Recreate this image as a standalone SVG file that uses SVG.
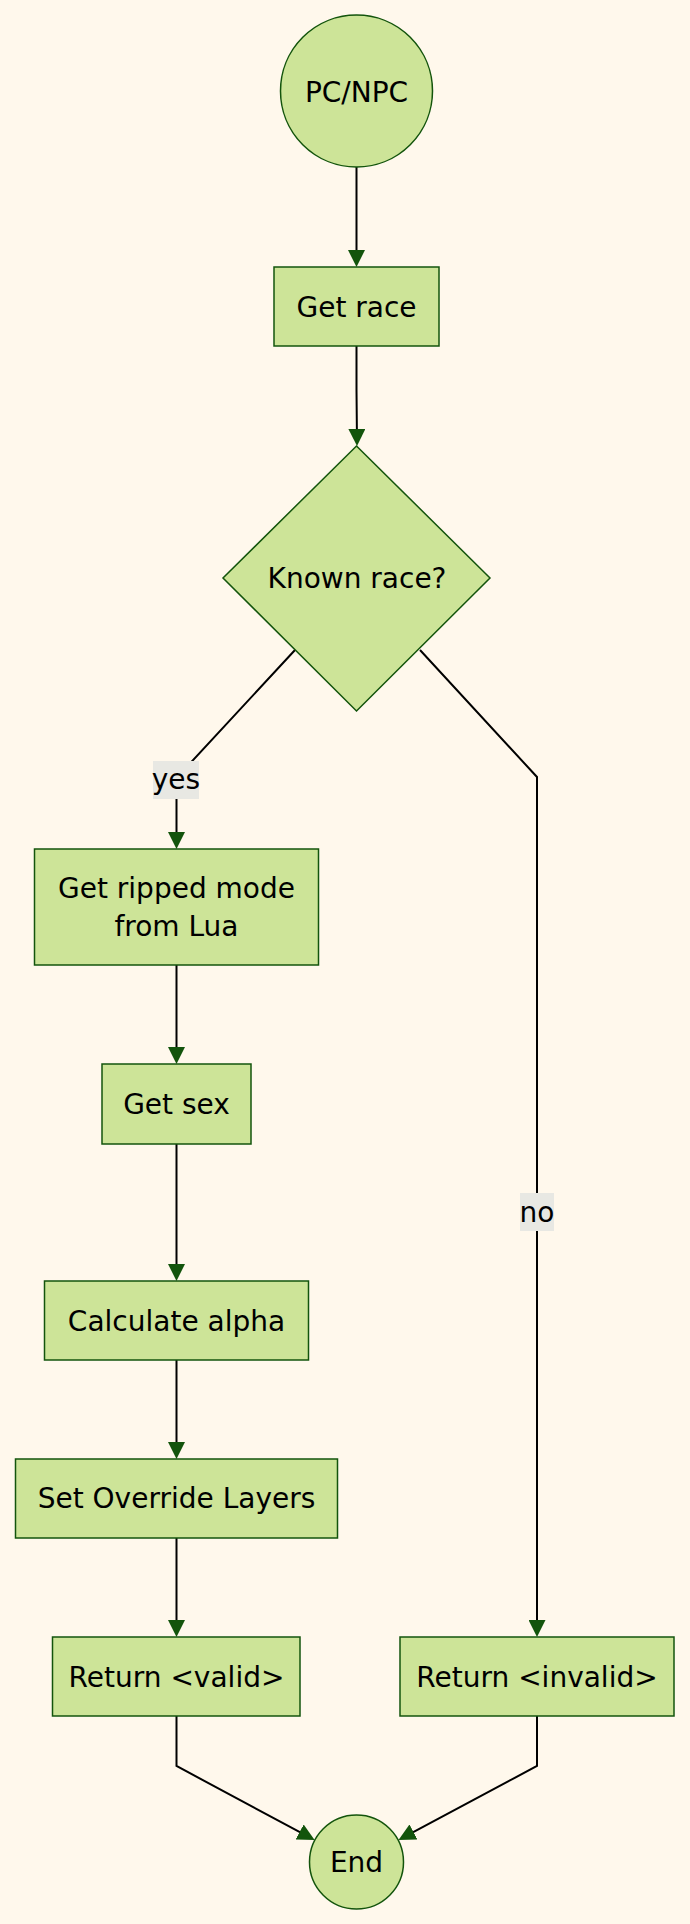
<svg xmlns="http://www.w3.org/2000/svg" width="690" height="1924" viewBox="0 0 690 1924">
<style>
.node{fill:#cde498;stroke:#13540c;stroke-width:1.5}
.t{font-family:"DejaVu Sans",sans-serif;font-size:28px;fill:#000;text-anchor:middle}
.edge{fill:none;stroke:#000;stroke-width:2}
.lbl{fill:#e8e8e3}
</style>
<defs>
<marker id="arr" viewBox="0 0 10 10" refX="7.65" refY="5" markerWidth="17" markerHeight="17" markerUnits="userSpaceOnUse" orient="auto">
<path d="M0,0 L10,5 L0,10 z" fill="#13540c"/>
</marker>
</defs>
<rect width="690" height="1924" fill="#fff8ec"/>
<g id="connectors">
<path class="edge" d="M356.5,167 L356.5,263" marker-end="url(#arr)"/>
<path class="edge" d="M356.5,346 L356.5,390 L357,442" marker-end="url(#arr)"/>
<path class="edge" d="M295,650 L176.5,778 L176.5,845" marker-end="url(#arr)"/>
<path class="edge" d="M420,650 L537,777 L537,1633" marker-end="url(#arr)"/>
<path class="edge" d="M176.5,965 L176.5,1060" marker-end="url(#arr)"/>
<path class="edge" d="M176.5,1144 L176.5,1277" marker-end="url(#arr)"/>
<path class="edge" d="M176.5,1360 L176.5,1455" marker-end="url(#arr)"/>
<path class="edge" d="M176.5,1538 L176.5,1633" marker-end="url(#arr)"/>
<path class="edge" d="M176.5,1716 L176.5,1766 L311.1,1838.1" marker-end="url(#arr)"/>
<path class="edge" d="M537,1716 L537,1766 L402,1838.1" marker-end="url(#arr)"/>
<g id="label-yes">
<rect class="lbl" x="153" y="761" width="46" height="38"/>
<text class="t" x="176" y="789">yes</text>
</g>
<g id="label-no">
<rect class="lbl" x="520" y="1193" width="34" height="38"/>
<text class="t" x="537" y="1222">no</text>
</g>
</g>
<g id="pcnpc">
<circle class="node" cx="356.5" cy="91" r="76"/>
<text class="t" x="356.5" y="101.5">PC/NPC</text>
</g>
<g id="getrace">
<rect class="node" x="274" y="267" width="165" height="79"/>
<text class="t" x="356.5" y="316.5">Get race</text>
</g>
<g id="known">
<polygon class="node" points="356.5,446 490,578 356.5,711 223,578"/>
<text class="t" x="357" y="588">Known race?</text>
</g>
<g id="ripped">
<rect class="node" x="34.5" y="849" width="284" height="116"/>
<text class="t" x="176.5" y="898">Get ripped mode</text>
<text class="t" x="176.5" y="936">from Lua</text>
</g>
<g id="getsex">
<rect class="node" x="102" y="1064" width="149" height="80"/>
<text class="t" x="176.5" y="1114">Get sex</text>
</g>
<g id="calc">
<rect class="node" x="44.5" y="1281" width="264" height="79"/>
<text class="t" x="176.5" y="1330.5">Calculate alpha</text>
</g>
<g id="setlayers">
<rect class="node" x="15.5" y="1459" width="322" height="79"/>
<text class="t" x="176.5" y="1508">Set Override Layers</text>
</g>
<g id="retvalid">
<rect class="node" x="52.5" y="1637" width="247.5" height="79"/>
<text class="t" x="176.5" y="1686.5">Return &lt;valid&gt;</text>
</g>
<g id="retinvalid">
<rect class="node" x="400" y="1637" width="274" height="79"/>
<text class="t" x="537" y="1686.5">Return &lt;invalid&gt;</text>
</g>
<g id="end">
<circle class="node" cx="356.5" cy="1862" r="47"/>
<text class="t" x="356.5" y="1872">End</text>
</g>
</svg>
